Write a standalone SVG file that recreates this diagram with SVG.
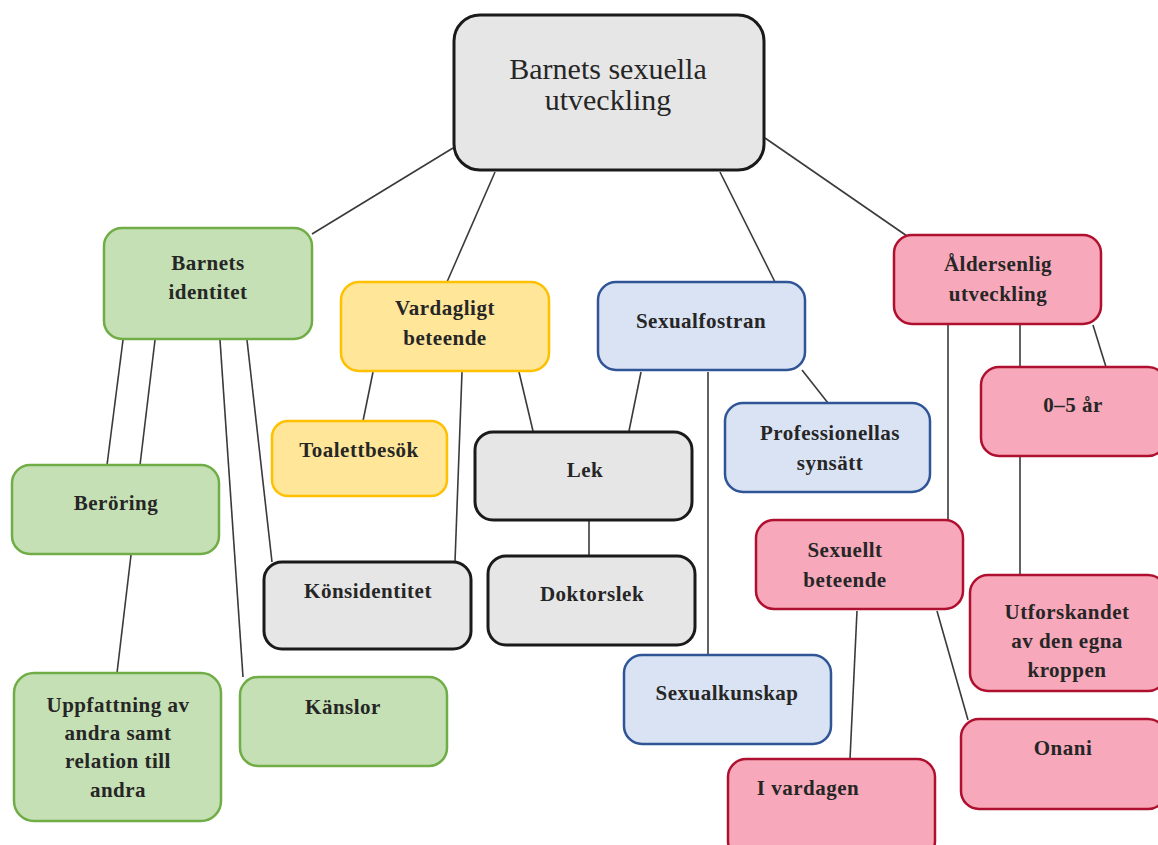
<svg xmlns="http://www.w3.org/2000/svg" width="1158" height="845" viewBox="0 0 1158 845">
<style>
.n{stroke-width:2.5}
.g{fill:#c5e0b4;stroke:#70ad47}
.y{fill:#ffe699;stroke:#ffc000}
.b{fill:#dae3f3;stroke:#2f5597}
.p{fill:#f7a8ba;stroke:#b0102f}
.k{fill:#e6e6e6;stroke:#1a1a1a;stroke-width:3}
text{font-family:"Liberation Serif","DejaVu Serif",serif;font-size:21px;font-weight:bold;letter-spacing:0.5px;fill:#262626;text-anchor:middle}
.t{font-size:30px;font-weight:normal;letter-spacing:0}
.c line{stroke:#3a3a3a;stroke-width:1.6}
</style>
<rect width="1158" height="845" fill="#fff"/>
<g class="c">
<line x1="453" y1="148" x2="312" y2="234"/>
<line x1="495" y1="172" x2="447" y2="282"/>
<line x1="720" y1="172" x2="775" y2="282"/>
<line x1="765" y1="138" x2="907" y2="236"/>
<line x1="123" y1="340" x2="107" y2="465"/>
<line x1="155" y1="340" x2="140" y2="465"/>
<line x1="220" y1="340" x2="243" y2="677"/>
<line x1="247" y1="340" x2="272" y2="562"/>
<line x1="131" y1="555" x2="117" y2="673"/>
<line x1="373" y1="372" x2="363" y2="421"/>
<line x1="462" y1="372" x2="455" y2="562"/>
<line x1="519" y1="372" x2="533" y2="431"/>
<line x1="641" y1="372" x2="629" y2="431"/>
<line x1="708" y1="372" x2="708" y2="655"/>
<line x1="802" y1="370" x2="828" y2="403"/>
<line x1="589" y1="521" x2="589" y2="556"/>
<line x1="948" y1="325" x2="948" y2="520"/>
<line x1="1020" y1="325" x2="1020" y2="367"/>
<line x1="1093" y1="325" x2="1106" y2="367"/>
<line x1="1020" y1="457" x2="1020" y2="575"/>
<line x1="857" y1="611" x2="850" y2="759"/>
<line x1="937" y1="611" x2="968" y2="720"/>
</g>
<g id="root"><rect class="k" x="454" y="15" width="310" height="155" rx="26"/><text class="t" x="608" y="79">Barnets sexuella</text><text class="t" x="608" y="110">utveckling</text></g>
<g id="identitet"><rect class="n g" x="104" y="228" width="208" height="111" rx="18"/><text x="208" y="270">Barnets</text><text x="208" y="299">identitet</text></g>
<g id="vardagligt"><rect class="n y" x="341" y="282" width="208" height="89" rx="18"/><text x="445" y="315">Vardagligt</text><text x="445" y="345">beteende</text></g>
<g id="sexualfostran"><rect class="n b" x="598" y="282" width="207" height="88" rx="18"/><text x="701" y="328">Sexualfostran</text></g>
<g id="aldersenlig"><rect class="n p" x="894" y="235" width="207" height="89" rx="18"/><text x="998" y="271">Åldersenlig</text><text x="998" y="301">utveckling</text></g>
<g id="toalett"><rect class="n y" x="272" y="421" width="175" height="75" rx="16"/><text x="359" y="457">Toalettbesök</text></g>
<g id="lek"><rect class="k" x="475" y="432" width="217" height="88" rx="18"/><text x="585" y="477">Lek</text></g>
<g id="professionellas"><rect class="n b" x="725" y="403" width="205" height="89" rx="18"/><text x="830" y="440">Professionellas</text><text x="830" y="470">synsätt</text></g>
<g id="ar05"><rect class="n p" x="981" y="367" width="185" height="89" rx="18"/><text x="1073" y="412">0–5 år</text></g>
<g id="beroring"><rect class="n g" x="12" y="465" width="207" height="89" rx="18"/><text x="116" y="510">Beröring</text></g>
<g id="konsidentitet"><rect class="k" x="264" y="562" width="207" height="87" rx="18"/><text x="368" y="598">Könsidentitet</text></g>
<g id="doktorslek"><rect class="k" x="488" y="556" width="207" height="89" rx="18"/><text x="592" y="601">Doktorslek</text></g>
<g id="sexuellt"><rect class="n p" x="756" y="520" width="207" height="89" rx="18"/><text x="845" y="557">Sexuellt</text><text x="845" y="587">beteende</text></g>
<g id="utforskandet"><rect class="n p" x="970" y="575" width="196" height="116" rx="18"/><text x="1067" y="619">Utforskandet</text><text x="1067" y="648">av den egna</text><text x="1067" y="677">kroppen</text></g>
<g id="uppfattning"><rect class="n g" x="14" y="673" width="207" height="148" rx="20"/><text x="118" y="712">Uppfattning av</text><text x="118" y="740">andra samt</text><text x="118" y="768">relation till</text><text x="118" y="797">andra</text></g>
<g id="kanslor"><rect class="n g" x="240" y="677" width="207" height="89" rx="18"/><text x="343" y="714">Känslor</text></g>
<g id="sexualkunskap"><rect class="n b" x="624" y="655" width="207" height="89" rx="18"/><text x="727" y="700">Sexualkunskap</text></g>
<g id="ivardagen"><rect class="n p" x="728" y="759" width="207" height="100" rx="18"/><text x="808" y="795">I vardagen</text></g>
<g id="onani"><rect class="n p" x="961" y="719" width="205" height="90" rx="18"/><text x="1063" y="755">Onani</text></g>
</svg>
